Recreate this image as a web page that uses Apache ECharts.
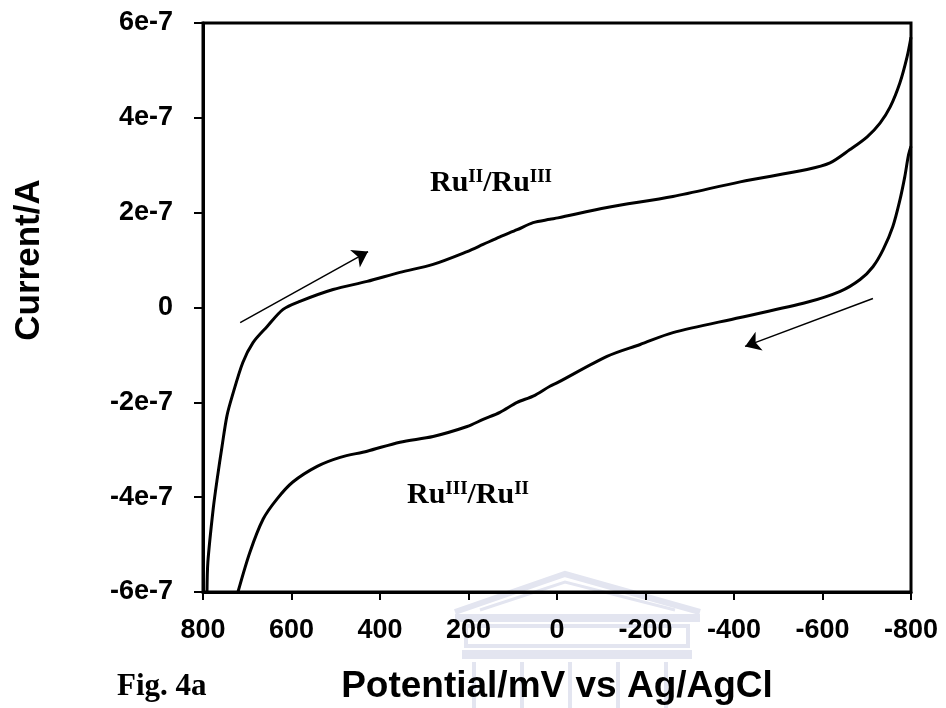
<!DOCTYPE html>
<html>
<head>
<meta charset="utf-8">
<script src="https://cdn.jsdelivr.net/npm/echarts/dist/echarts.min.js"></script>
<style>
  html, body { margin: 0; padding: 0; background: #fff; }
  #chart { width: 946px; height: 708px; }
</style>
</head>
<body>
<div id="chart"></div>
<script>
// potential in mV, current in units of 1e-7 A
const forwardPotential = [791, 789, 777, 768, 757, 746, 734, 710, 687, 655, 619, 581, 506, 429, 355, 280, 203, 167, 129, 90, 54, 16, -2, -113, -262, -414, -565, -617, -662, -701, -730, -753, -775, -791, -800];
const forwardCurrent = [-6.0, -5.37, -4.25, -3.62, -2.93, -2.29, -1.87, -1.16, -0.74, -0.40, -0.04, 0.13, 0.38, 0.55, 0.74, 0.91, 1.18, 1.33, 1.49, 1.64, 1.79, 1.86, 1.89, 2.11, 2.34, 2.65, 2.91, 3.05, 3.33, 3.60, 3.89, 4.23, 4.74, 5.28, 5.7];

const reversePotential = [-800, -794, -786, -775, -759, -737, -714, -685, -640, -565, -414, -262, -188, -113, -2, 16, 54, 90, 129, 167, 203, 280, 355, 429, 490, 542, 597, 633, 664, 694, 721];
const reverseCurrent = [3.4, 3.2, 2.76, 2.27, 1.71, 1.22, 0.86, 0.59, 0.34, 0.11, -0.21, -0.53, -0.78, -1.03, -1.58, -1.66, -1.87, -2.0, -2.21, -2.36, -2.51, -2.72, -2.84, -3.03, -3.16, -3.35, -3.68, -4.04, -4.46, -5.16, -6.0];

// scan direction arrows: [from, to] in data units
const arrowForward = [[716, -0.32], [427, 1.18]];
const arrowReverse = [[-714, 0.19], [-425, -0.82]];

const xTicks = { min: -800, max: 800, step: 200 };
const yTicks = { min: -6, max: 6, step: 2 };

const zip = (xs, ys) => xs.map((x, i) => [x, ys[i]]);

const sans = "'Liberation Sans', Arial, sans-serif";
const serif = "'Liberation Serif', 'Times New Roman', serif";

const ruRich = {
  a: { fontFamily: serif, fontWeight: 'bold', fontSize: 30, lineHeight: 30, color: '#000' },
  s: { fontFamily: serif, fontWeight: 'bold', fontSize: 19, lineHeight: 19, color: '#000', verticalAlign: 'top' }
};

// faint watermark behind the x axis title
const wm = '#e3e5f0';
const watermark = [
  { type: 'polyline', shape: { points: [[455, 612], [565, 574], [700, 612]] }, style: { stroke: wm, lineWidth: 6, fill: null } },
  { type: 'polyline', shape: { points: [[480, 610], [565, 582], [675, 610]] }, style: { stroke: wm, lineWidth: 3, fill: null } },
  { type: 'rect', shape: { x: 455, y: 614, width: 245, height: 8 }, style: { fill: wm } },
  { type: 'rect', shape: { x: 466, y: 626, width: 222, height: 20 }, style: { fill: null, stroke: wm, lineWidth: 4 } },
  { type: 'rect', shape: { x: 462, y: 650, width: 230, height: 9 }, style: { fill: wm } },
  { type: 'rect', shape: { x: 472, y: 662, width: 4, height: 46 }, style: { fill: wm } },
  { type: 'rect', shape: { x: 520, y: 662, width: 4, height: 46 }, style: { fill: wm } },
  { type: 'rect', shape: { x: 568, y: 662, width: 4, height: 46 }, style: { fill: wm } },
  { type: 'rect', shape: { x: 616, y: 662, width: 4, height: 46 }, style: { fill: wm } },
  { type: 'rect', shape: { x: 664, y: 662, width: 4, height: 46 }, style: { fill: wm } }
].map((g) => Object.assign({ silent: true, z: -10 }, g));

const myChart = echarts.init(document.getElementById('chart'));
myChart.setOption({
  backgroundColor: '#fff',
  animation: false,
  grid: {
    left: 203,
    right: 35,
    top: 23,
    bottom: 116,
    containLabel: false,
    outerBoundsMode: 'none',
    show: true,
    borderColor: '#000',
    borderWidth: 3
  },
  xAxis: {
    type: 'value',
    inverse: true,
    min: xTicks.min,
    max: xTicks.max,
    interval: xTicks.step,
    name: 'Potential/mV vs Ag/AgCl',
    nameLocation: 'middle',
    nameGap: 76,
    nameTextStyle: { fontFamily: sans, fontWeight: 'bold', fontSize: 37, color: '#000' },
    axisLine: { show: true, onZero: false, lineStyle: { color: '#000', width: 3 } },
    axisTick: { show: true, length: 8, lineStyle: { color: '#000', width: 2 } },
    axisLabel: {
      margin: 25,
      fontFamily: sans,
      fontWeight: 'bold',
      fontSize: 27,
      color: '#000',
      showMinLabel: true,
      showMaxLabel: true
    },
    splitLine: { show: false }
  },
  yAxis: {
    type: 'value',
    min: yTicks.min,
    max: yTicks.max,
    interval: yTicks.step,
    axisLine: { show: true, onZero: false, lineStyle: { color: '#000', width: 3 } },
    axisTick: { show: true, length: 9, lineStyle: { color: '#000', width: 2 } },
    axisLabel: {
      margin: 30,
      fontFamily: sans,
      fontWeight: 'bold',
      fontSize: 27,
      color: '#000',
      formatter: (v) => (v === 0 ? '0' : v + 'e-7')
    },
    splitLine: { show: false }
  },
  series: [
    {
      name: 'forward',
      type: 'line',
      data: zip(forwardPotential, forwardCurrent),
      showSymbol: false,
      smooth: 0.3,
      lineStyle: { color: '#000', width: 3 },
      markLine: {
        silent: true,
        symbol: ['none', 'arrow'],
        symbolSize: 15,
        label: { show: false },
        lineStyle: { color: '#000', width: 1.5, type: 'solid' },
        data: [
          [{ coord: arrowForward[0] }, { coord: arrowForward[1] }],
          [{ coord: arrowReverse[0] }, { coord: arrowReverse[1] }]
        ]
      }
    },
    {
      name: 'reverse',
      type: 'line',
      data: zip(reversePotential, reverseCurrent),
      showSymbol: false,
      smooth: 0.3,
      lineStyle: { color: '#000', width: 3 }
    }
  ],
  graphic: watermark.concat([
    {
      type: 'text',
      x: 29,
      y: 260,
      rotation: Math.PI / 2,
      style: {
        text: 'Current/A',
        font: "bold 35px " + sans,
        fill: '#000',
        textAlign: 'center',
        textVerticalAlign: 'middle'
      }
    },
    {
      type: 'text',
      x: 430,
      y: 168,
      style: {
        text: '{a|Ru}{s|II}{a|/Ru}{s|III}',
        rich: ruRich,
        textAlign: 'left',
        textVerticalAlign: 'top'
      }
    },
    {
      type: 'text',
      x: 407,
      y: 480,
      style: {
        text: '{a|Ru}{s|III}{a|/Ru}{s|II}',
        rich: ruRich,
        textAlign: 'left',
        textVerticalAlign: 'top'
      }
    },
    {
      type: 'text',
      x: 117,
      y: 687,
      style: {
        text: 'Fig. 4a',
        font: "bold 31px " + serif,
        fill: '#000',
        textAlign: 'left',
        textVerticalAlign: 'middle'
      }
    }
  ])
});
</script>
</body>
</html>
